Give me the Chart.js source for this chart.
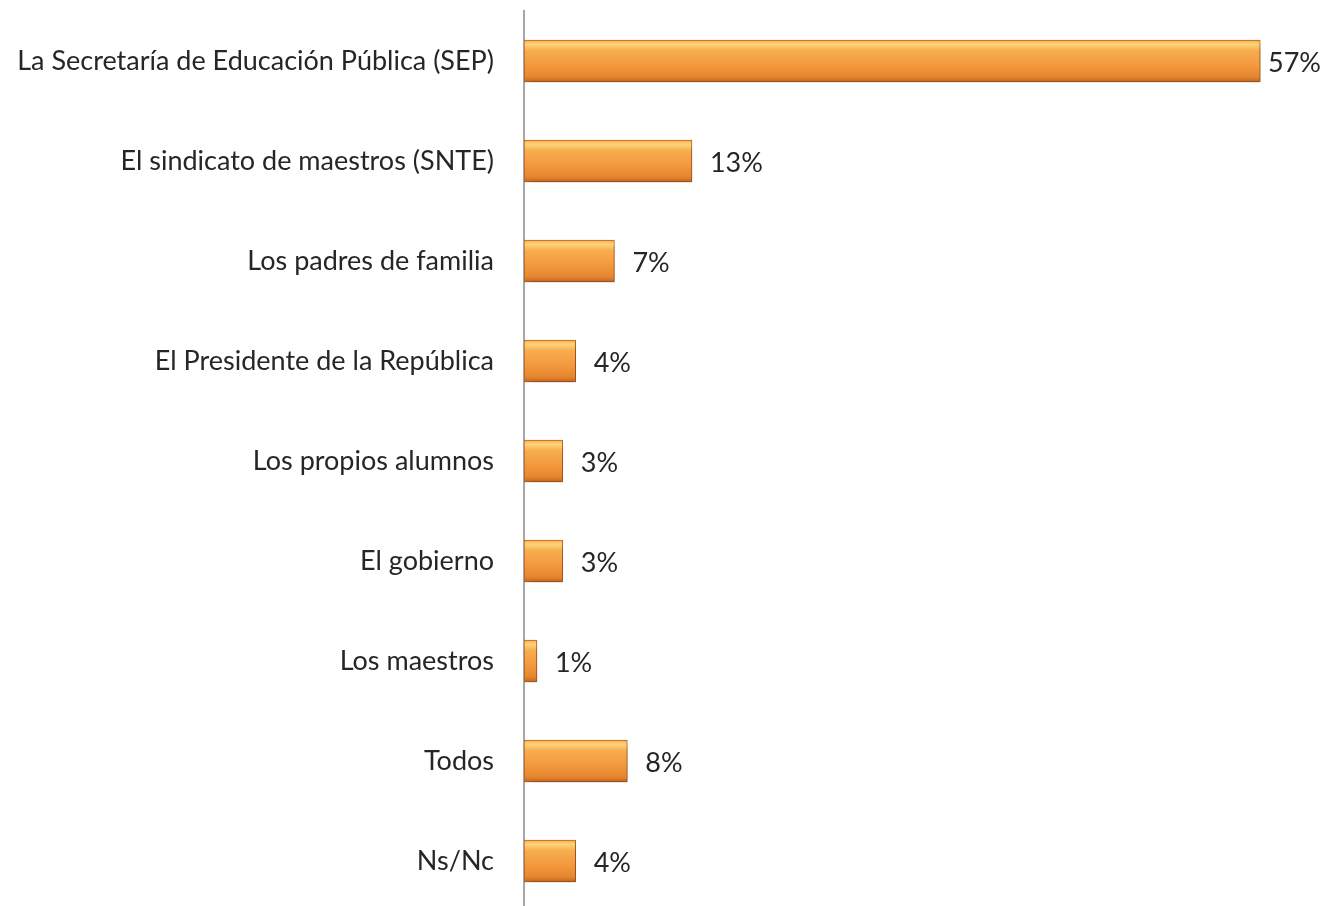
<!DOCTYPE html>
<html>
<head>
<meta charset="utf-8">
<script src="https://cdn.jsdelivr.net/npm/chart.js@4/dist/chart.umd.min.js"></script>
<style>
  html, body { margin: 0; padding: 0; background: #fff; overflow: hidden; }
</style>
</head>
<body>
<canvas id="grafico" width="1338" height="911"></canvas>
<script>
const categorias = [
  "La Secretaría de Educación Pública (SEP)",
  "El sindicato de maestros (SNTE)",
  "Los padres de familia",
  "El Presidente de la República",
  "Los propios alumnos",
  "El gobierno",
  "Los maestros",
  "Todos",
  "Ns/Nc"
];
const porcentajes = [57, 13, 7, 4, 3, 3, 1, 8, 4];

const fuente = "Lato";

function relleno(c) {
  const chart = c.chart;
  if (!chart.chartArea || !chart.scales.y) return "#F39A3F";
  const y = chart.scales.y.getPixelForValue(c.dataIndex);
  const g = chart.ctx.createLinearGradient(0, y - 21, 0, y + 21);
  g.addColorStop(0, "#F6A94B");
  g.addColorStop(0.1, "#FCD47A");
  g.addColorStop(0.25, "#F7AE50");
  g.addColorStop(0.6, "#F3993E");
  g.addColorStop(0.88, "#E5852F");
  g.addColorStop(1, "#BF6520");
  return g;
}

const sombra = {
  id: "sombra",
  beforeDatasetDraw(chart) {
    const ctx = chart.ctx;
    ctx.save();
    ctx.shadowColor = "rgba(0,0,0,0.3)";
    ctx.shadowBlur = 8;
    ctx.shadowOffsetY = 6;
    ctx.shadowOffsetX = 2;
  },
  afterDatasetDraw(chart) {
    chart.ctx.restore();
  }
};

const etiquetas = {
  id: "etiquetas",
  afterDatasetsDraw(chart) {
    const ctx = chart.ctx;
    const meta = chart.getDatasetMeta(0);
    ctx.save();
    ctx.font = "27px " + fuente;
    ctx.fillStyle = "#262626";
    ctx.textBaseline = "middle";
    meta.data.forEach((bar, i) => {
      const txt = porcentajes[i] + "%";
      const w = ctx.measureText(txt).width;
      const x = Math.min(bar.x + 18, chart.width - w - 17);
      ctx.fillText(txt, x, bar.y + 2);
    });
    ctx.restore();
  }
};

new Chart(document.getElementById("grafico"), {
  type: "bar",
  data: {
    labels: categorias,
    datasets: [{
      data: porcentajes,
      backgroundColor: relleno,
      borderColor: "#C0661F",
      borderWidth: 1,
      borderSkipped: false,
      barThickness: 42
    }]
  },
  options: {
    indexAxis: "y",
    responsive: false,
    animation: false,
    layout: { padding: { top: 11, right: 39, left: 0, bottom: 0 } },
    plugins: { legend: { display: false }, tooltip: { enabled: false } },
    scales: {
      x: { display: false, min: 0, max: 60 },
      y: {
        afterFit(axis) {
          axis.width = 524;
          axis.paddingTop = 0;
          axis.paddingBottom = 0;
        },
        grid: { display: false },
        border: { display: true, color: "#A6A6A6", width: 2 },
        ticks: {
          color: "#262626",
          font: { family: fuente, size: 27 },
          padding: 22
        }
      }
    }
  },
  plugins: [sombra, etiquetas]
});
</script>
</body>
</html>
